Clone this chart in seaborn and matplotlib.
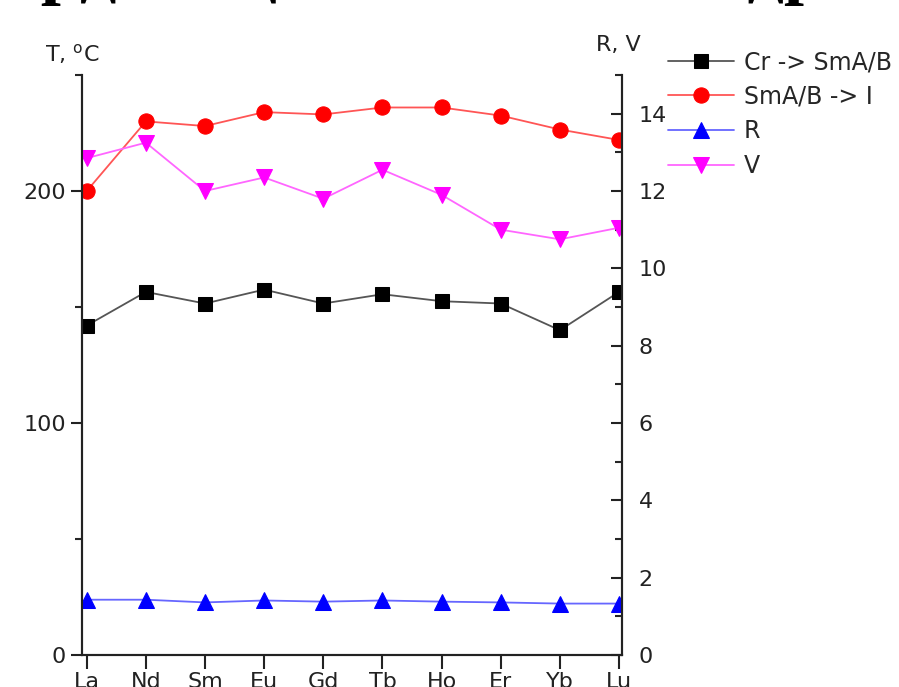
import numpy as np
import matplotlib
matplotlib.use("Agg")
import matplotlib.pyplot as plt
from matplotlib.ticker import MultipleLocator
import seaborn as sns

elements = ["La", "Nd", "Sm", "Eu", "Gd", "Tb", "Ho", "Er", "Yb", "Lu"]
t_cr_sm = [142.0, 156.5, 151.5, 157.5, 151.5, 155.5, 152.5, 151.5, 140.0, 156.5]
t_sm_iso = [200.0, 230.0, 228.0, 234.0, 233.0, 236.0, 236.0, 232.5, 226.5, 222.0]
r_vals = [1.43, 1.43, 1.36, 1.41, 1.38, 1.41, 1.38, 1.36, 1.33, 1.33]
v_vals = [12.85, 13.25, 12.0, 12.35, 11.8, 12.55, 11.9, 11.0, 10.75, 11.05]

sns.set_style("ticks")
plt.rcParams["font.family"] = ["DejaVu Sans"]

fig = plt.figure(figsize=(8.99, 6.87), dpi=100)
ax = fig.add_axes([82 / 899, 1 - 655 / 687, 540 / 899, 580 / 687])
ax2 = ax.twinx()

pos = np.arange(len(elements))

sns.lineplot(x=pos, y=t_cr_sm, ax=ax, color="#555555", linewidth=1.3,
             marker="s", markersize=10, markerfacecolor="black",
             markeredgecolor="black", label="Cr -> SmA/B", legend=False)
sns.lineplot(x=pos, y=t_sm_iso, ax=ax, color="#ff5555", linewidth=1.3,
             marker="o", markersize=11, markerfacecolor="red",
             markeredgecolor="red", label="SmA/B -> I", legend=False)
sns.lineplot(x=pos, y=r_vals, ax=ax2, color="#6666ff", linewidth=1.3,
             marker="^", markersize=11, markerfacecolor="blue",
             markeredgecolor="blue", label="R", legend=False)
sns.lineplot(x=pos, y=v_vals, ax=ax2, color="#ff66ff", linewidth=1.3,
             marker="v", markersize=11, markerfacecolor="magenta",
             markeredgecolor="magenta", label="V", legend=False)

ax.set_xlim(-0.08, 9.05)
ax.set_ylim(0, 250)
ax2.set_ylim(0, 15)
ax.set_xticks(pos)
ax.set_xticklabels(elements)
ax.set_yticks([0, 100, 200])
ax.yaxis.set_minor_locator(MultipleLocator(50))
ax2.yaxis.set_major_locator(MultipleLocator(2))
ax2.yaxis.set_minor_locator(MultipleLocator(1))
ax.set_xlabel("")
ax.set_ylabel("")
ax2.set_ylabel("")

for a in (ax, ax2):
    a.spines["top"].set_visible(False)
    for s in a.spines.values():
        s.set_linewidth(1.5)
        s.set_color("#222222")
ax.tick_params(axis="both", which="major", direction="out", length=8, width=1.5,
               labelsize=16, colors="#222222")
ax.tick_params(axis="y", which="minor", direction="out", length=5, width=1.5)
ax.tick_params(axis="x", which="major", length=10, pad=2)
ax2.tick_params(axis="y", which="major", direction="in", length=8, width=1.5,
                labelsize=16, pad=12, colors="#222222")
ax2.tick_params(axis="y", which="minor", direction="in", length=5, width=1.5)

fig.text(72 / 899, 1 - 54 / 687, "T, $\\mathregular{^o}$C", fontsize=16,
         ha="center", va="center", color="#222222")
fig.text(618 / 899, 1 - 45 / 687, "R, V", fontsize=16,
         ha="center", va="center", color="#222222")

# heading of the slide, cut by the top edge
fig.text(-72 / 899, 1 + 9 / 687, "координационным полиэдром", fontsize=52,
         fontweight="bold", family=["Liberation Serif", "DejaVu Serif"],
         ha="left", va="baseline", color="black")

h1, l1 = ax.get_legend_handles_labels()
h2, l2 = ax2.get_legend_handles_labels()
fig.legend(h1 + h2, l1 + l2, loc="upper left",
           bbox_to_anchor=(668 / 899, 1 - 50 / 687), frameon=False,
           fontsize=17, handlelength=2.8, handletextpad=0.4,
           labelspacing=0.45, borderpad=0, borderaxespad=0)

fig.savefig("out.png", dpi=100)
